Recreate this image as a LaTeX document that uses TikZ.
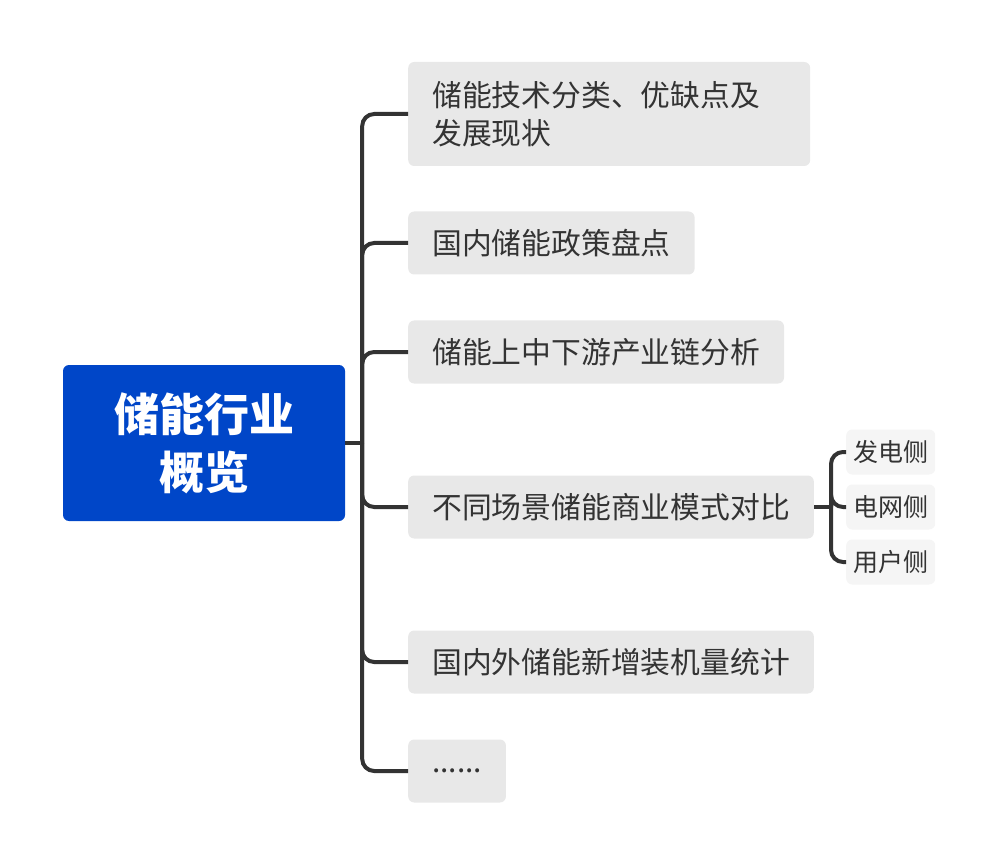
\documentclass[tikz,border=0pt]{standalone}
\usepackage{fontspec}
\newfontfamily\cjk{Noto Sans CJK SC}
\usetikzlibrary{positioning, calc}
\definecolor{rootblue}{HTML}{0046C8}
\definecolor{topicgray}{HTML}{E8E8E8}
\definecolor{subgray}{HTML}{F5F5F5}
\definecolor{ink}{HTML}{333333}

\begin{document}
\begin{tikzpicture}[
    x=1pt, y=-1pt,
    root/.style={fill=rootblue, rounded corners=6pt, minimum width=282pt,
                 minimum height=156pt, text=white, align=center,
                 font=\cjk\bfseries\fontsize{45}{58}\selectfont},
    topic/.style={fill=topicgray, rounded corners=6pt, anchor=west,
                  inner xsep=24pt, inner ysep=0pt, minimum height=63pt,
                  text=ink, font=\cjk\fontsize{29.8}{38}\selectfont},
    leaf/.style={fill=subgray, rounded corners=6pt, anchor=west,
                 inner xsep=7pt, inner ysep=0pt, minimum height=45pt,
                 text=ink, font=\cjk\fontsize{25}{30}\selectfont},
    conn/.style={draw=ink, line width=4pt, rounded corners=12pt}
  ]
  \useasboundingbox (0,0) rectangle (998,866);

  \node[root] (core) at (204,443) {储能行业\\概览};

  \node[topic, text width=354pt, align=left, minimum height=104pt]
    (t1) at (408,114) {储能技术分类、优缺点及\\发展现状};
  \node[topic] (t2) at (408,243) {国内储能政策盘点};
  \node[topic] (t3) at (408,352) {储能上中下游产业链分析};
  \node[topic] (t4) at (408,507) {不同场景储能商业模式对比};
  \node[topic] (t5) at (408,662) {国内外储能新增装机量统计};
  \node[topic] (t6) at (408,771) {......};

  \node[leaf] (s1) at (846,452) {发电侧};
  \node[leaf] (s2) at (846,507) {电网侧};
  \node[leaf] (s3) at (846,562) {用户侧};

  % trunk and branches
  \coordinate (hub) at ($(core.east)+(17,0)$);
  \draw[conn] (core.east) -- (hub);
  \foreach \t in {t1,t2,t3,t4,t5,t6}
    \draw[conn] (hub) |- (\t.west);

  \coordinate (subhub) at ($(t4.east)+(17,0)$);
  \draw[conn] (t4.east) -- (subhub);
  \foreach \s in {s1,s2,s3}
    \draw[conn] (subhub) |- (\s.west);
\end{tikzpicture}
\end{document}
